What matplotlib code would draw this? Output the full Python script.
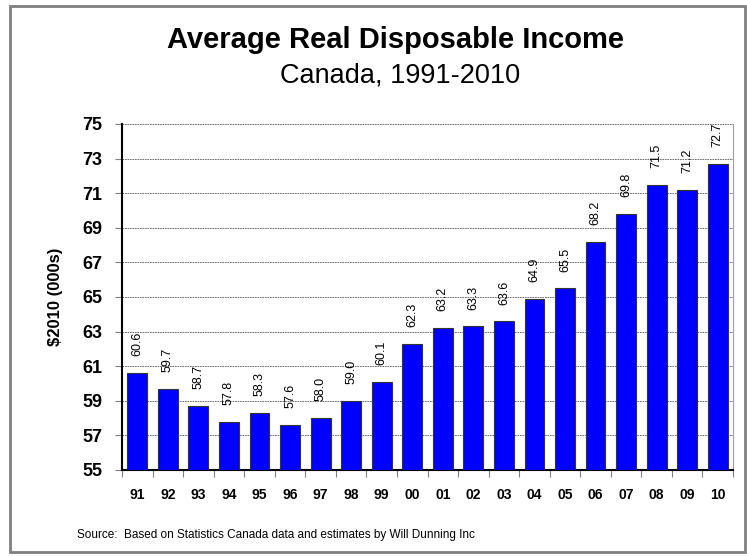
import numpy as np
import matplotlib.pyplot as plt
from matplotlib.patches import Rectangle

plt.rcParams['font.family'] = ['Liberation Sans', 'DejaVu Sans']

# Average real disposable income, $2010 thousands
years = ["91", "92", "93", "94", "95", "96", "97", "98", "99", "00",
         "01", "02", "03", "04", "05", "06", "07", "08", "09", "10"]
income = [60.6, 59.7, 58.7, 57.8, 58.3, 57.6, 58.0, 59.0, 60.1, 62.3,
          63.2, 63.3, 63.6, 64.9, 65.5, 68.2, 69.8, 71.5, 71.2, 72.7]
yticks = [55, 57, 59, 61, 63, 65, 67, 69, 71, 73, 75]

fig = plt.figure(figsize=(7.47, 5.56), dpi=100)
ax = fig.add_axes([0.1633, 0.1547, 0.818, 0.6223])

x = np.arange(len(years))
ax.bar(x, income, width=0.65, color="#0000ff", edgecolor="#333333",
       linewidth=0.8, zorder=3)

for xi, v in zip(x, income):
    ax.annotate(f"{v:.1f}", (xi, v), xytext=(0, 12), textcoords="offset points",
                rotation=90, ha="center", va="bottom", fontsize=9, zorder=4)

ax.set_xlim(-0.5, len(years) - 0.5)
ax.set_ylim(55, 75)
ax.set_yticks(yticks)
ax.set_yticklabels([str(t) for t in yticks], fontsize=13, fontweight="bold")
ax.tick_params(axis="y", length=5, width=0.8, color="#808080", pad=9)

# labels at bar centres, tick marks between categories
ax.set_xticks(x)
ax.set_xticklabels(years, fontsize=10, fontweight="bold")
ax.set_xticks(np.arange(len(years) + 1) - 0.5, minor=True)
ax.tick_params(axis="x", which="major", length=0, pad=13)
ax.tick_params(axis="x", which="minor", length=5, width=0.8, color="#808080")

ax.grid(axis="y", linestyle=(0, (2, 1)), color="#555555", linewidth=0.6, zorder=0)
ax.spines["top"].set_visible(False)
ax.spines["right"].set_color("#a0a0a0")
ax.spines["left"].set_linewidth(1.5)
ax.spines["bottom"].set_linewidth(1.5)

ax.set_ylabel("$2010 (000s)", fontsize=12, fontweight="bold", labelpad=14)

fig.text(0.529, 0.914, "Average Real Disposable Income", ha="center",
         va="baseline", fontsize=21, fontweight="bold")
fig.text(0.535, 0.852, "Canada, 1991-2010", ha="center", va="baseline",
         fontsize=19.5)
fig.text(0.103, 0.032, "Source:  Based on Statistics Canada data and estimates by Will Dunning Inc",
         ha="left", va="baseline", fontsize=8.5)

# grey frame around the whole chart
fig.patches.append(Rectangle((0.014, 0.008), 0.983, 0.982, transform=fig.transFigure,
                             fill=False, edgecolor="#808080", linewidth=2))

fig.savefig("out.png", dpi=100)
